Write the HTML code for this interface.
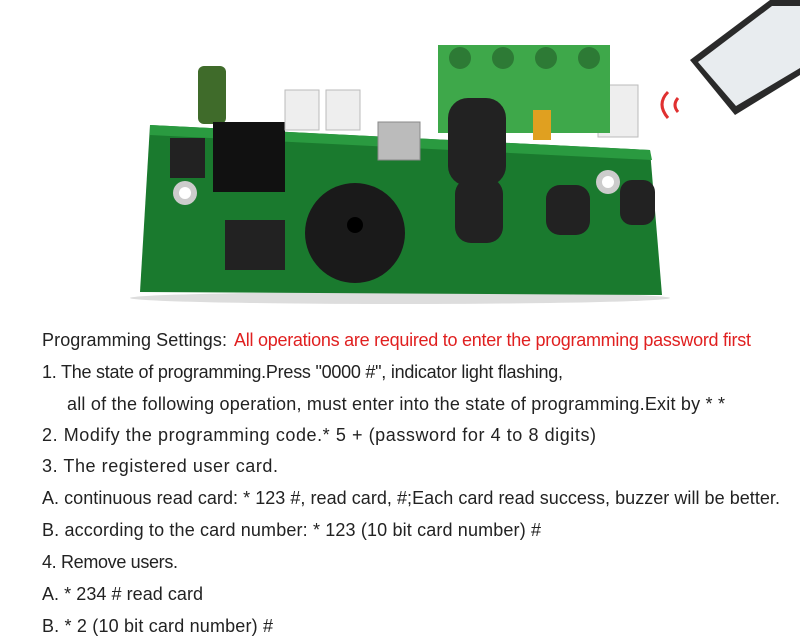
<!DOCTYPE html>
<html><head><meta charset="utf-8"><style>
html,body{margin:0;padding:0;background:#fff;width:800px;height:639px;overflow:hidden}
svg{display:block}
text{font-family:"Liberation Sans",sans-serif;font-size:18px;fill:#222}
</style></head><body>
<svg width="800" height="639" viewBox="0 0 800 639">
<ellipse cx="400" cy="298" rx="270" ry="6" fill="#ddd"/>
<polygon points="150,125 650,150 662,295 140,292" fill="#1a7a2e"/>
<polygon points="150,125 650,150 652,160 150,135" fill="#2a9a40"/>
<rect x="198" y="66" width="28" height="58" rx="6" fill="#3f6b2a"/>
<rect x="213" y="122" width="72" height="70" fill="#111"/>
<rect x="170" y="138" width="35" height="40" fill="#222"/>
<rect x="285" y="90" width="34" height="40" fill="#eee" stroke="#bbb"/>
<rect x="326" y="90" width="34" height="40" fill="#eee" stroke="#bbb"/>
<rect x="598" y="85" width="40" height="52" fill="#eee" stroke="#bbb"/>
<rect x="378" y="122" width="42" height="38" fill="#bbb" stroke="#888"/>
<rect x="438" y="45" width="172" height="88" fill="#3ea84a"/>
<circle cx="460" cy="58" r="11" fill="#2d7a35"/><circle cx="503" cy="58" r="11" fill="#2d7a35"/>
<circle cx="546" cy="58" r="11" fill="#2d7a35"/><circle cx="589" cy="58" r="11" fill="#2d7a35"/>
<rect x="448" y="98" width="58" height="88" rx="20" fill="#222"/>
<rect x="455" y="178" width="48" height="65" rx="16" fill="#222"/>
<rect x="546" y="185" width="44" height="50" rx="14" fill="#222"/>
<rect x="533" y="110" width="18" height="30" fill="#e0a020"/>
<rect x="225" y="220" width="60" height="50" fill="#222"/>
<ellipse cx="355" cy="233" rx="50" ry="50" fill="#1a1a1a"/>
<circle cx="355" cy="225" r="8" fill="#000"/>
<rect x="620" y="180" width="35" height="45" rx="12" fill="#222"/>
<circle cx="185" cy="193" r="12" fill="#ccc"/><circle cx="185" cy="193" r="6" fill="#fff"/>
<circle cx="608" cy="182" r="12" fill="#ccc"/><circle cx="608" cy="182" r="6" fill="#fff"/>
<polygon points="690,60 770,0 800,0 800,75 735,115" fill="#2a2a2a"/>
<polygon points="698,62 772,6 800,6 800,68 736,106" fill="#e8ecef"/>
<path d="M668,92 q-12,12 0,26" stroke="#e03030" stroke-width="3" fill="none"/>
<path d="M678,98 q-6,7 0,14" stroke="#e03030" stroke-width="3" fill="none"/>
<text x="42" y="346" textLength="185">Programming Settings:</text>
<text x="234" y="346" textLength="517" style="fill:#e02020">All operations are required to enter the programming password first</text>
<text x="42" y="378" textLength="521">1. The state of programming.Press "0000 #", indicator light flashing,</text>
<text x="67" y="410" textLength="658">all of the following operation, must enter into the state of programming.Exit by * *</text>
<text x="42" y="441" textLength="554">2. Modify the programming code.* 5 + (password for 4 to 8 digits)</text>
<text x="42" y="472" textLength="236">3. The registered user card.</text>
<text x="42" y="504" textLength="738">A. continuous read card: * 123 #, read card, #;Each card read success, buzzer will be better.</text>
<text x="42" y="536" textLength="499">B. according to the card number: * 123 (10 bit card number) #</text>
<text x="42" y="568" textLength="136">4. Remove users.</text>
<text x="42" y="600" textLength="161">A. * 234 # read card</text>
<text x="42" y="632" textLength="231">B. * 2 (10 bit card number) #</text>
</svg>
</body></html>
